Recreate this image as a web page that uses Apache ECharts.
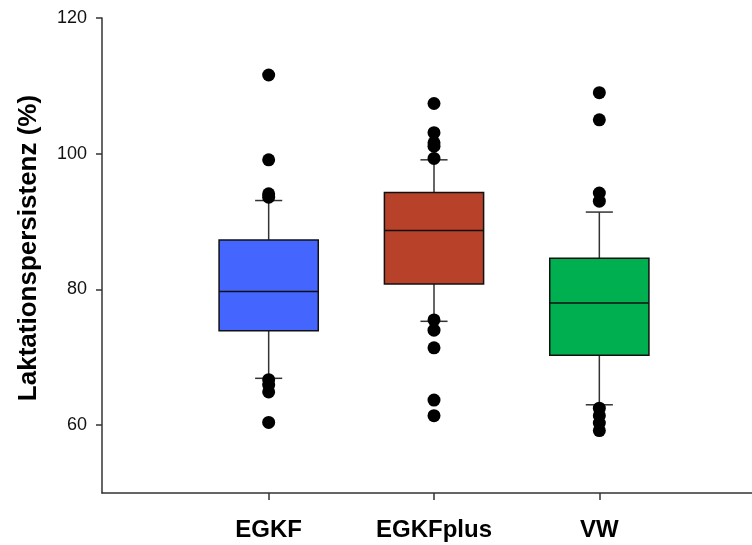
<!DOCTYPE html>
<html>
<head>
<meta charset="utf-8">
<script src="https://cdn.jsdelivr.net/npm/echarts@6/dist/echarts.min.js"></script>
<style>
  html, body { margin: 0; padding: 0; background: #fff; }
  #chart { width: 752px; height: 545px; }
</style>
</head>
<body>
<div id="chart"></div>
<script>
// box statistics per group
const categories = ['EGKF', 'EGKFplus', 'VW']
const whiskerLow = [66.9, 75.3, 63.0]
const q1 = [73.9, 80.8, 70.3]
const median = [79.7, 88.7, 78.0]
const q3 = [87.3, 94.3, 84.6]
const whiskerHigh = [93.1, 99.1, 91.4]
const boxColors = ['#4466ff', '#b8412a', '#00b050']

// outliers per group
const outliersEGKF = [111.6, 99.1, 94.1, 93.6, 66.7, 65.9, 64.9, 60.4]
const outliersEGKFplus = [107.4, 103.1, 101.6, 101.1, 99.3, 75.5, 74.0, 71.4, 63.7, 61.4]
const outliersVW = [109.0, 105.0, 94.2, 93.0, 62.5, 61.4, 60.3, 59.2]

const yTicks = [60, 80, 100, 120]

const chart = echarts.init(document.getElementById('chart'))

const boxData = categories.map((c, i) => [i, whiskerLow[i], q1[i], median[i], q3[i], whiskerHigh[i]])
const outlierData = []
;[outliersEGKF, outliersEGKFplus, outliersVW].forEach((list, i) => {
  list.forEach(v => outlierData.push([categories[i], v]))
})

const renderBox = (params, api) => {
  const idx = api.value(0)
  const band = api.size([1, 0])[0]
  const half = band * 0.3
  const capHalf = band * 0.082
  const pLow = api.coord([idx, api.value(1)])
  const pQ1 = api.coord([idx, api.value(2)])
  const pMed = api.coord([idx, api.value(3)])
  const pQ3 = api.coord([idx, api.value(4)])
  const pHigh = api.coord([idx, api.value(5)])
  const x = pMed[0]
  const whiskerStyle = { stroke: '#333', lineWidth: 1.5 }
  const edgeStyle = { stroke: '#111', lineWidth: 1.5 }
  return {
    type: 'group',
    children: [
      { type: 'line', shape: { x1: x, y1: pQ3[1], x2: x, y2: pHigh[1] }, style: whiskerStyle },
      { type: 'line', shape: { x1: x, y1: pQ1[1], x2: x, y2: pLow[1] }, style: whiskerStyle },
      { type: 'line', shape: { x1: x - capHalf, y1: pHigh[1], x2: x + capHalf, y2: pHigh[1] }, style: whiskerStyle },
      { type: 'line', shape: { x1: x - capHalf, y1: pLow[1], x2: x + capHalf, y2: pLow[1] }, style: whiskerStyle },
      {
        type: 'rect',
        shape: { x: x - half, y: pQ3[1], width: half * 2, height: pQ1[1] - pQ3[1] },
        style: { fill: boxColors[idx], stroke: '#111', lineWidth: 1.5 }
      },
      { type: 'line', shape: { x1: x - half, y1: pMed[1], x2: x + half, y2: pMed[1] }, style: edgeStyle }
    ]
  }
}

const option = {
  animation: false,
  backgroundColor: '#fff',
  textStyle: { fontFamily: 'Liberation Sans, Arial, sans-serif' },
  grid: [
    { left: 186, right: 70, top: 18, bottom: 52 },
    { left: 102, right: 0, top: 18, bottom: 52 }
  ],
  xAxis: [
    {
      type: 'category',
      gridIndex: 0,
      data: categories,
      axisLine: { show: false },
      axisTick: { show: true, alignWithLabel: true, length: 7, lineStyle: { color: '#333', width: 1.5 } },
      axisLabel: { margin: 25, fontSize: 24, fontWeight: 'bold', color: '#000' },
      splitLine: { show: false }
    },
    {
      type: 'value',
      gridIndex: 1,
      min: 0,
      max: 1,
      axisLine: { show: true, onZero: false, lineStyle: { color: '#333', width: 1.5 } },
      axisTick: { show: false },
      axisLabel: { show: false },
      splitLine: { show: false }
    }
  ],
  yAxis: [
    {
      type: 'value',
      gridIndex: 0,
      min: 50,
      max: 120,
      show: false
    },
    {
      type: 'value',
      gridIndex: 1,
      min: 50,
      max: 120,
      name: 'Laktationspersistenz (%)',
      nameLocation: 'middle',
      nameGap: 60,
      nameTextStyle: { fontSize: 26, fontWeight: 'bold', color: '#000', padding: [0, 0, 0, 15] },
      axisLine: { show: true, lineStyle: { color: '#333', width: 1.5 } },
      axisTick: { show: true, length: 6, customValues: yTicks, lineStyle: { color: '#333', width: 1.5 } },
      axisLabel: { fontSize: 18, color: '#111', margin: 15, customValues: yTicks },
      splitLine: { show: false }
    }
  ],
  series: [
    {
      type: 'custom',
      xAxisIndex: 0,
      yAxisIndex: 0,
      renderItem: renderBox,
      data: boxData,
      z: 2
    },
    {
      type: 'scatter',
      xAxisIndex: 0,
      yAxisIndex: 0,
      symbolSize: 13,
      itemStyle: { color: '#000', opacity: 1 },
      data: outlierData,
      z: 3
    }
  ]
}

chart.setOption(option)
</script>
</body>
</html>
